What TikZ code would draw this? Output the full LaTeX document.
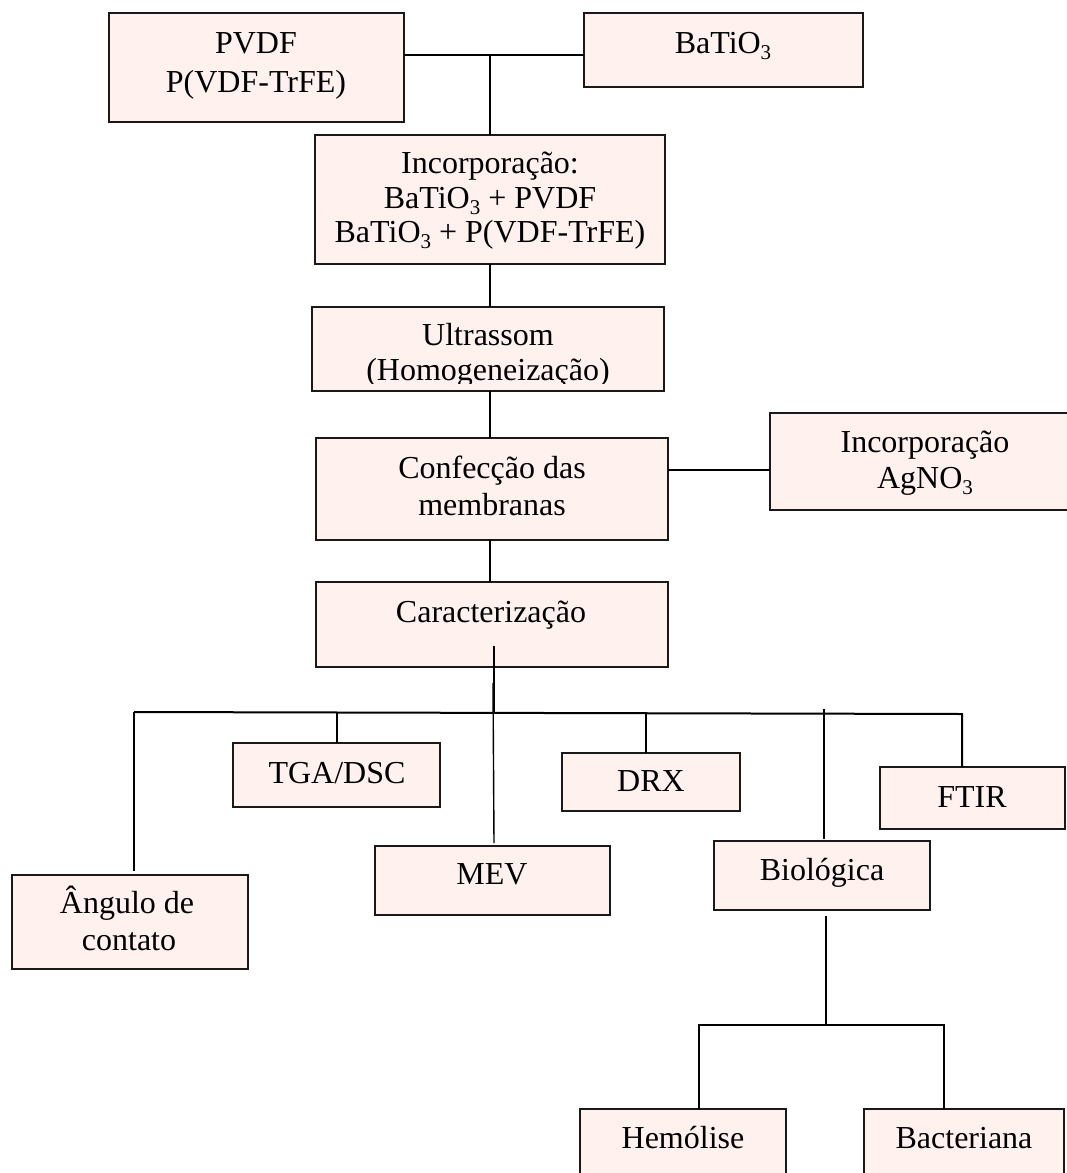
\documentclass[tikz,border=0pt]{standalone}
\usepackage{fontspec}
\setmainfont{Liberation Serif}
\usetikzlibrary{calc}
\definecolor{boxfill}{RGB}{254,241,238}
\definecolor{boxline}{RGB}{25,25,25}
\tikzset{
  box/.style={draw=boxline, line width=1.5pt, fill=boxfill, rectangle, inner sep=0pt, outer sep=0pt},
  txt/.style={anchor=base, inner sep=0pt, outer sep=0pt, font=\fontsize{32}{36}\selectfont},
  link/.style={draw=black, line width=2pt},
  thinlink/.style={draw=black, line width=1.4pt},
}
\newcommand\mysub[1]{\raisebox{-6pt}{\fontsize{21}{21}\selectfont #1}}
\newcommand\mybox[5]{%
  \pgfmathsetmacro\myBW{#4-#2}\pgfmathsetmacro\myBH{#5-#3}%
  \pgfmathsetmacro\myBX{(#2+#4)/2}\pgfmathsetmacro\myBY{(#3+#5)/2}%
  \node[box, minimum width=\myBW pt, minimum height=\myBH pt] (#1) at (\myBX,\myBY) {};}
\begin{document}
\begin{tikzpicture}[x=1pt,y=-1pt]
\clip (0,0) rectangle (1067,1173);
\fill[white] (0,0) rectangle (1067,1173);

% boxes
\mybox{pvdf}{109}{13}{404}{122}
\mybox{bto}{584}{13}{863}{87}
\mybox{inc}{315}{135}{665}{264}
\mybox{ult}{312}{307}{664}{391}
\mybox{conf}{316}{438}{668}{540}
\mybox{agno}{770}{413}{1080}{510}
\mybox{car}{316}{582}{668}{667}
\mybox{ang}{12}{875}{248}{969}
\mybox{tga}{233}{743}{440}{807}
\mybox{drx}{562}{753}{740}{811}
\mybox{ftir}{880}{767}{1065}{829}
\mybox{mev}{375}{846}{610}{915}
\mybox{bio}{714}{841}{930}{910}
\mybox{hem}{580}{1109}{786}{1190}
\mybox{bac}{864}{1109}{1064}{1190}

% texts
\node[txt] (tpvdf1) at (256,53) {PVDF};
\node[txt] (tpvdf2) at (256,92) {P(VDF-TrFE)};
\node[txt] (tbto) at (723,53) {BaTiO\mysub{3}};
\node[txt] (tinc1) at (490,173) {Incorporação:};
\node[txt] (tinc2) at (490,208) {BaTiO\mysub{3} + PVDF};
\node[txt] (tinc3) at (490,242) {BaTiO\mysub{3} + P(VDF-TrFE)};
\node[txt] (tult1) at (488,345) {Ultrassom};
\begin{scope}
  \clip (312,307) rectangle (664,383);
  \node[txt] (tult2) at (488,380) {(Homogeneização)};
\end{scope}
\node[txt] (tconf1) at (492,478) {Confecção das};
\node[txt] (tconf2) at (492,515) {membranas};
\node[txt] (tag1) at (925,452) {Incorporação};
\node[txt] (tag2) at (925,488) {AgNO\mysub{3}};
\node[txt] (tcar) at (491,622) {Caracterização};
\node[txt] (ttga) at (337,783) {TGA/DSC};
\node[txt] (tdrx) at (651,791) {DRX};
\node[txt] (tftir) at (972,807) {FTIR};
\node[txt] (tmev) at (492,884) {MEV};
\node[txt] (tbio) at (822,880) {Biológica};
\node[txt] (tang1) at (127,913) {Ângulo de};
\node[txt] (tang2) at (129,950) {contato};
\node[txt] (themo) at (683,1148) {Hemólise};
\node[txt] (tbac) at (964,1148) {Bacteriana};

% junction coordinates
\coordinate (j1) at (490,55);
\coordinate (j2) at (700,470);
\coordinate (cs) at (494,646);
\coordinate (bl) at (134,712);
\coordinate (br) at (962,714);
\coordinate (dx) at (646,714);
\coordinate (bt) at (824,709);
\coordinate (j3) at (826,1025);
\coordinate (hb) at (699,1025);
\coordinate (bb) at (944,1025);

% connectors
\draw[link] (pvdf.east |- j1) -- (bto.west |- j1);
\draw[link] (j1) -- (inc.north -| j1);
\draw[link] (inc.south -| j1) -- (ult.north -| j1);
\draw[link] (ult.south -| j1) -- (conf.north -| j1);
\draw[link] (conf.east |- j2) -- (agno.west |- j2);
\draw[link] (conf.south -| j1) -- (car.north -| j1);
\draw[link] (cs) -- (cs |- bl);
\draw[thinlink] (493,683) -- ($(mev.north -| cs)+(0,-3)$);
\draw[link] (bl) -- (br) -- (ftir.north -| br);
\draw[thinlink] (bl) -- ($(ang.north -| bl)+(0,-4)$);
\draw[link] (tga.north |- bl) -- (tga.north);
\draw[link] (dx) -- (drx.north -| dx);
\draw[thinlink] (bt) -- ($(bio.north -| bt)+(0,-2)$);
\draw[link] ($(bio.south -| j3)+(0,6)$) -- (j3);
\draw[link] (hem.north -| hb) -- (hb) -- (bb) -- (bac.north -| bb);
\end{tikzpicture}
\end{document}
